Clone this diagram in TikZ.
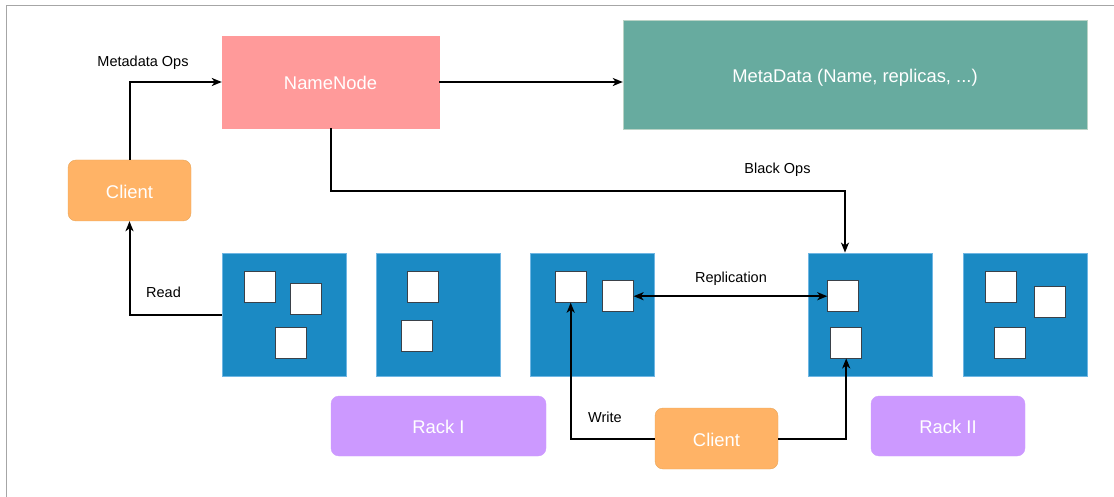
\documentclass[tikz,border=0pt]{standalone}
\usepackage{fontspec}
\setmainfont{Liberation Sans}
\usetikzlibrary{arrows.meta}
\definecolor{nnpink}{HTML}{FF9A9A}
\definecolor{metagreen}{HTML}{67AB9F}
\definecolor{metaedge}{HTML}{B9D3C6}
\definecolor{rackblue}{HTML}{1B8AC4}
\definecolor{rackedge}{HTML}{6FB6E3}
\definecolor{clientfill}{HTML}{FFB366}
\definecolor{clientedge}{HTML}{E8A55A}
\definecolor{rackpurple}{HTML}{CC99FF}
\definecolor{blockedge}{HTML}{3A4149}
\definecolor{framegrey}{HTML}{A6A6A6}
\tikzset{
  x=1pt, y=-1pt,
  box/.style={draw, inner sep=0pt, text=white, font=\fontsize{18.4}{22}\selectfont,
    text height=15.2pt, text depth=0pt},
  namebox/.style={box, fill=nnpink, draw=nnpink, minimum width=217pt, minimum height=92pt},
  metabox/.style={box, fill=metagreen, draw=metaedge, minimum width=464pt, minimum height=109pt},
  client/.style={box, fill=clientfill, draw=clientedge, rounded corners=8pt, minimum width=123pt, minimum height=61pt},
  racklabel/.style={box, fill=rackpurple, draw=rackpurple, rounded corners=8pt, minimum height=60pt},
  node server/.style={draw=rackedge, fill=rackblue, line width=0.8pt, inner sep=0pt, minimum width=124pt, minimum height=123pt},
  blockbox/.style={draw=blockedge, fill=white, line width=0.8pt, inner sep=0pt, minimum size=31pt},
  tip/.tip={Stealth[length=10pt,width=8pt,inset=2.8pt]},
  conn/.style={line width=2pt, -tip},
  lbl/.style={font=\fontsize{14.5}{17}\selectfont, text=black, inner sep=0pt, anchor=base},
}
\begin{document}
\begin{tikzpicture}
\useasboundingbox (0,0) rectangle (1114,497);
% frame edges
\draw[framegrey, line width=0.9pt] (6,497) -- (6,5) -- (1114,5);

% name node and its metadata
\node[namebox] (nn) at (330.5,82) {NameNode};
\node[metabox] (meta) at (855,74.5) {MetaData (Name, replicas, ...)};

% clients
\node[client] (c1) at (129.5,190.5) {Client};
\node[client] (c2) at (716.5,438.5) {Client};

% data nodes
\node[node server] (r1) at (284,314.5) {};
\node[node server] (r2) at (438.5,314.5) {};
\node[node server] (r3) at (592.5,314.5) {};
\node[node server] (r4) at (870.5,314.5) {};
\node[node server] (r5) at (1025,314.5) {};

% blocks
\node[blockbox] (b11) at (259.5,286.8) {};
\node[blockbox] (b12) at (305.8,299.2) {};
\node[blockbox] (b13) at (290.4,342.5) {};
\node[blockbox] (b21) at (423.2,286.8) {};
\node[blockbox] (b22) at (416.7,336.3) {};
\node[blockbox] (b31) at (570.7,286.8) {};
\node[blockbox] (b32) at (617.7,296.2) {};
\node[blockbox] (b41) at (843.2,296.2) {};
\node[blockbox] (b42) at (846.2,342.5) {};
\node[blockbox] (b51) at (1000.7,286.8) {};
\node[blockbox] (b52) at (1050.2,302.3) {};
\node[blockbox] (b53) at (1009.8,342.5) {};

% rack labels
\node[racklabel, minimum width=215pt] (rackI) at (438.5,426) {Rack I};
\node[racklabel, minimum width=154pt] (rackII) at (948,426) {Rack II};

% connectors
\draw[conn] (c1.north) |- (nn.west);
\node[lbl] (lmeta) at (143,67) {Metadata Ops};

\draw[conn] (nn.east) -- (nn.east -| meta.west);

\coordinate (bo) at (845,191);
\draw[conn] (nn.south) |- (bo) -- (bo |- r4.north);
\node[lbl] (lblack) at (777.5,174) {Black Ops};

\draw[line width=2pt, tip-tip] (b32.east) -- (b41.west);
\node[lbl] (lrep) at (731,282.3) {Replication};

\draw[conn] (r1.west) -| (c1.south);
\node[lbl] (lread) at (163.5,298) {Read};

\draw[conn] (c2.west) -| (b31.south);
\node[lbl] (lwrite) at (605,422.3) {Write};

\draw[conn] (c2.east) -| (b42.south);
\end{tikzpicture}
\end{document}
